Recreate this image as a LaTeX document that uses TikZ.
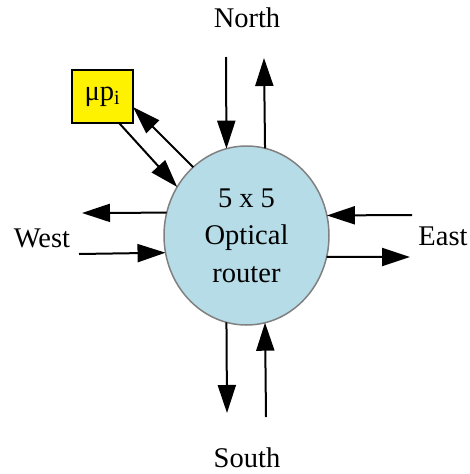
\documentclass[tikz,border=0pt]{standalone}
\usepackage{fontspec}
\setmainfont{Liberation Serif}
\usetikzlibrary{arrows.meta,shapes.geometric}

\definecolor{routerblue}{RGB}{182,220,231}
\tikzset{
	bigfont/.style={font=\fontsize{28.5}{37.5}\selectfont},
	port/.style={line width=2pt,-{Triangle[length=28pt,width=18pt]}},
	dirlabel/.style={bigfont,anchor=base,inner sep=0pt},
}

\begin{document}
\begin{tikzpicture}[x=1pt,y=-1pt]
			\useasboundingbox (0,0) rectangle (469,474);
			% router and the local processor
			\node[ellipse,draw=gray,line width=1.5pt,fill=routerblue,minimum width=165pt,minimum height=179pt,
				inner sep=0pt,outer sep=0pt,align=center,bigfont] (R) at (246.5,235.5) {5 x 5\\Optical\\router};
			\node[draw,fill=yellow,line width=1.5pt,minimum width=61pt,minimum height=53pt,
				inner sep=0pt,outer sep=0pt,bigfont] (MP) at (102.5,96.5) {μp\textsubscript{i}};
			
			% free ends of the ports
			\coordinate (Nin) at (226,57);
			\coordinate (Nout) at (264,58);
			\coordinate (Sout) at (227,413);
			\coordinate (Sin) at (266,417);
			\coordinate (Wout) at (82,213);
			\coordinate (Win) at (79,254);
			\coordinate (Ein) at (412,215);
			\coordinate (Eout) at (410,257);
			
			\draw[port] (Nin) -- (R.103.3);
			\draw[port] (R.78.7) -- (Nout);
			\draw[port] (R.257.4) -- (Sout);
			\draw[port] (Sin) -- (R.282.6);
			\draw[port] (R.164.3) -- (Wout);
			\draw[port] (Win) -- (R.192.9);
			\draw[port] (Ein) -- (R.14.3);
			\draw[port] (R.345) -- (Eout);
			
			\draw[port] (MP.-58) -- (R.145.3);
			\draw[port] (R.128.9) -- (MP.-19);
			
			\node[dirlabel] (north) at (247,27) {North};
			\node[dirlabel] (south) at (247,467) {South};
			\node[dirlabel] (west) at (42,247) {West};
			\node[dirlabel] (east) at (443,245) {East};
		\end{tikzpicture}
\end{document}
